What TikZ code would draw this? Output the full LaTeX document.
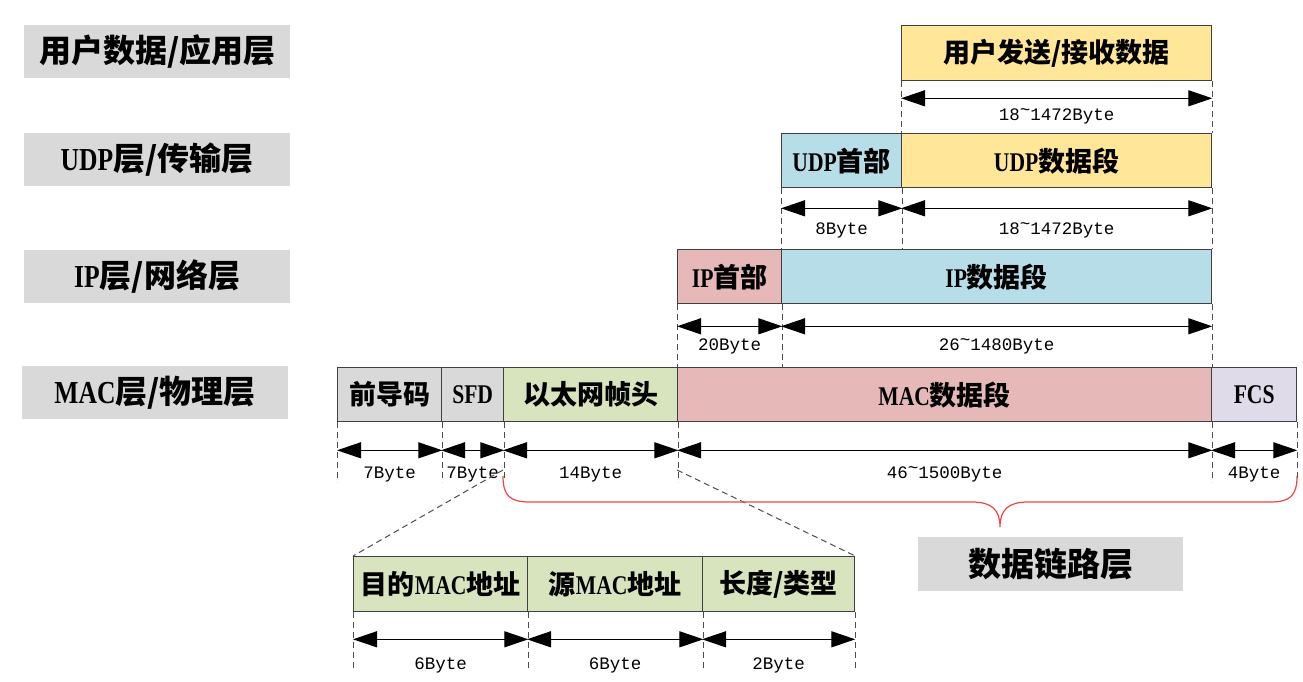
\documentclass[tikz,border=0pt]{standalone}
\usepackage{fontspec}
\usetikzlibrary{arrows.meta}
\newfontfamily\cjk{Noto Sans CJK SC}
\newfontfamily\lat[FakeStretch=0.8]{Liberation Serif}
\newfontfamily\mono{Liberation Mono}
\newcommand\La[1]{{\lat\bfseries #1}}
\newcommand\tld{\raisebox{5pt}{\char"7E}}
\definecolor{cGray}{HTML}{D9D9D9}
\definecolor{cYel}{HTML}{FFE699}
\definecolor{cBlue}{HTML}{B7DEE8}
\definecolor{cPink}{HTML}{E6B9B8}
\definecolor{cGreen}{HTML}{D7E4BD}
\definecolor{cLav}{HTML}{DFDBE8}
\definecolor{cBrace}{HTML}{F04545}
\tikzset{
  seg/.style={draw=black!75, line width=1.3pt, inner sep=0pt, anchor=north west,
    font=\cjk\bfseries\fontsize{27}{27}\selectfont},
  lay/.style={fill=cGray, inner sep=0pt, anchor=north west, minimum width=266pt, minimum height=53pt,
    font=\cjk\bfseries\fontsize{32}{32}\selectfont},
  dsh/.style={draw=black!70, line width=1pt, dash pattern=on 6pt off 4pt},
  dim/.style={line width=1.2pt, {Triangle[length=24pt,width=16pt]}-{Triangle[length=24pt,width=16pt]}},
  blab/.style={inner sep=0pt, font=\mono\fontsize{17.5}{18}\selectfont},
  brace/.style={draw=cBrace, line width=1.2pt}
}
\begin{document}
\begin{tikzpicture}[x=1pt,y=-1pt]
\useasboundingbox (0,0) rectangle (1303,682);
% left layer labels
\node[lay] (l1) at (24,25) {用户数据/应用层};
\node[lay] (l2) at (24,133) {\La{UDP}层/传输层};
\node[lay] (l3) at (24,250) {\La{IP}层/网络层};
\node[lay] (l4) at (22,366) {\La{MAC}层/物理层};
% row 1
\node[seg, fill=cYel, minimum width=310pt, minimum height=55pt] (ud) at (901,25) {用户发送/接收数据};
% row 2
\node[seg, fill=cBlue, minimum width=120pt, minimum height=54pt] (uh) at (781,133) {\La{UDP}首部};
\node[seg, fill=cYel, minimum width=310pt, minimum height=54pt] (ud2) at (901,133) {\La{UDP}数据段};
% row 3
\node[seg, fill=cPink, minimum width=104pt, minimum height=54pt] (ih) at (677,249) {\La{IP}首部};
\node[seg, fill=cBlue, minimum width=430pt, minimum height=54pt] (id) at (781,249) {\La{IP}数据段};
% row 4
\node[seg, fill=cGray, minimum width=104pt, minimum height=54pt] (pre) at (337,367) {前导码};
\node[seg, fill=cGray, minimum width=62pt, minimum height=54pt] (sfd) at (441,367) {\La{SFD}};
\node[seg, fill=cGreen, minimum width=174pt, minimum height=54pt] (eth) at (503,367) {以太网帧头};
\node[seg, fill=cPink, minimum width=534pt, minimum height=54pt] (mac) at (677,367) {\La{MAC}数据段};
\node[seg, fill=cLav, minimum width=85pt, minimum height=54pt] (fcs) at (1211,367) {\La{FCS}};
% bottom row
\node[seg, fill=cGreen, minimum width=174pt, minimum height=55pt] (dst) at (353,556) {目的\La{MAC}地址};
\node[seg, fill=cGreen, minimum width=175pt, minimum height=55pt] (src) at (527,556) {源\La{MAC}地址};
\node[seg, fill=cGreen, minimum width=152pt, minimum height=55pt] (len) at (702,556) {长度/类型};
% data link label
\node[lay, minimum width=265pt, minimum height=54pt, font=\cjk\bfseries\fontsize{33}{33}\selectfont] (dl) at (918,537) {数据链路层};

% dashed verticals
\draw[dsh] (ud.south west) -- (ud.south west |- ud2.north);
\draw[dsh] (ud.south east) -- (ud.south east |- ud2.north);
\draw[dsh] (uh.south west) -- (uh.south west |- id.north);
\draw[dsh] (uh.south east) -- (uh.south east |- id.north);
\draw[dsh] (ud2.south east) -- (ud2.south east |- id.north);
\draw[dsh] (ih.south west) -- (ih.south west |- mac.north);
\draw[dsh] (ih.south east) -- (ih.south east |- mac.north);
\draw[dsh] (id.south east) -- (id.south east |- mac.north);
\foreach \n/\a in {pre/south west, pre/south east, sfd/south east, eth/south east, mac/south east, fcs/south east}
  \draw[dsh] (\n.\a) -- ([yshift=-60pt]\n.\a);
\foreach \n/\a in {dst/south west, dst/south east, src/south east, len/south east}
  \draw[dsh] (\n.\a) -- ([yshift=-58pt]\n.\a);

% dimension arrows and labels
\draw[dim] ([yshift=-17pt]ud.south west) -- ([yshift=-17pt]ud.south east);
\node[blab] (t1) at ([yshift=-35pt]ud.south) {18\tld1472Byte};

\draw[dim] ([yshift=-20pt]uh.south west) -- ([yshift=-20pt]uh.south east);
\draw[dim] ([yshift=-20pt]ud2.south west) -- ([yshift=-20pt]ud2.south east);
\node[blab] (t2) at ([yshift=-42pt]uh.south) {8Byte};
\node[blab] (t3) at ([yshift=-42pt]ud2.south) {18\tld1472Byte};

\draw[dim] ([yshift=-22pt]ih.south west) -- ([yshift=-22pt]ih.south east);
\draw[dim] ([yshift=-22pt]id.south west) -- ([yshift=-22pt]id.south east);
\node[blab] (t4) at ([yshift=-42pt]ih.south) {20Byte};
\node[blab] (t5) at ([yshift=-42pt]id.south) {26\tld1480Byte};

\foreach \n in {pre,sfd,eth,mac,fcs}
  \draw[dim] ([yshift=-28pt]\n.south west) -- ([yshift=-28pt]\n.south east);
\node[blab] (t6) at ([yshift=-52pt]pre.south) {7Byte};
\node[blab] (t7) at ([yshift=-52pt]sfd.south) {7Byte};
\node[blab] (t8) at ([yshift=-52pt]eth.south) {14Byte};
\node[blab] (t9) at ([yshift=-52pt]mac.south) {46\tld1500Byte};
\node[blab] (t10) at ([yshift=-52pt]fcs.south) {4Byte};

\foreach \n in {dst,src,len}
  \draw[dim] ([yshift=-27pt]\n.south west) -- ([yshift=-27pt]\n.south east);
\node[blab] (t11) at ([yshift=-53pt]dst.south) {6Byte};
\node[blab] (t12) at ([yshift=-53pt]src.south) {6Byte};
\node[blab] (t13) at ([yshift=-53pt]len.south) {2Byte};

% zoom lines
\coordinate (z1) at (503,470);
\coordinate (z2) at (677,470);
\draw[dsh] (z1) -- (dst.north west);
\draw[dsh] (z2) -- (len.north east);

% brace
\coordinate (b0) at (503,476);
\coordinate (b1) at (1297,476);
\coordinate (bt) at (1000,527);
\draw[brace] (b0) .. controls (503,496) and (510,502) .. (530,502) -- (972,502)
  .. controls (992,502) and (1000,510) .. (bt)
  .. controls (1000,510) and (1008,502) .. (1028,502) -- (1270,502)
  .. controls (1290,502) and (1297,496) .. (b1);
\end{tikzpicture}
\end{document}
